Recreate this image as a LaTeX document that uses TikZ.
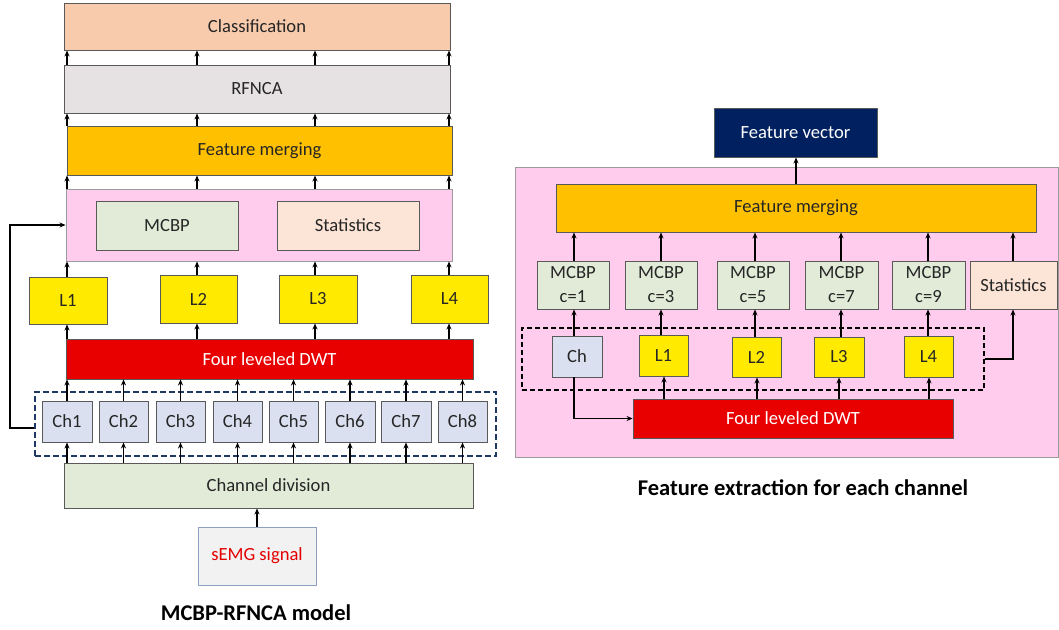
\documentclass[tikz,border=0pt]{standalone}
\usepackage{fontspec}
\setmainfont{Carlito}
\usetikzlibrary{arrows.meta,calc}
\definecolor{cpeach}{HTML}{F8CBAD}
\definecolor{cgray}{HTML}{E6E2E4}
\definecolor{corange}{HTML}{FFC000}
\definecolor{cpink}{HTML}{FFCCEE}
\definecolor{cgreen}{HTML}{E2EBD8}
\definecolor{cstat}{HTML}{FCE4D6}
\definecolor{cyellow}{HTML}{FFEA00}
\definecolor{cred}{HTML}{E80000}
\definecolor{cblue}{HTML}{DAE0F0}
\definecolor{cnavy}{HTML}{002060}
\definecolor{cdash}{HTML}{203864}
\definecolor{cborder}{HTML}{595959}
\definecolor{csemgb}{HTML}{8EA0BE}
\definecolor{csemgf}{HTML}{F2F2F2}
\definecolor{ctxt}{HTML}{262626}
\begin{document}
\begin{tikzpicture}[x=1pt,y=-1pt,
  rect/.style args={#1/#2/#3/#4}{minimum width={#3-#1},minimum height={#4-#2},
    at={({(#1+#3)/2},{(#2+#4)/2})},anchor=center},
  box/.style={draw=cborder,line width=0.9pt,inner sep=0pt,text=ctxt,
    font=\fontsize{18.6}{24}\selectfont,align=center},
  arr/.style={line width=1.2pt,-{Stealth[length=6pt,width=5pt]}},
  ttl/.style={font=\fontsize{22.5}{26}\selectfont\bfseries,text=black}]
\useasboundingbox (0,0) rectangle (1059,629);

% ---------- left diagram ----------
\node[box,fill=cpeach,rect=64/3/450/50] (cls) {Classification};
\node[box,fill=cgray,rect=64/65/450/113] (rf) {RFNCA};
\node[box,fill=corange,rect=67/126/452/175] (fmL) {Feature merging};
\node[box,draw=cborder!60,fill=cpink,rect=66/189/452/261] (pinkL) {};
\node[box,fill=cgreen,rect=96/201/238/250] (mcbpL) {MCBP};
\node[box,fill=cstat,rect=277/201/419/250] (statL) {Statistics};
\node[box,fill=cyellow,rect=29/277/107/324] (l1) {L1};
\node[box,fill=cyellow,rect=160/275/237/323] (l2) {L2};
\node[box,fill=cyellow,rect=279/275/357/323] (l3) {L3};
\node[box,fill=cyellow,rect=411/275/488/323] (l4) {L4};
\node[box,fill=cred,text=white,rect=66/339/473/379] (dwtL) {Four leveled DWT};
\node[draw=cdash,line width=1.3pt,dash pattern=on 6pt off 3pt,inner sep=0pt,rect=35/392/496/456] (dashL) {};
\node[box,fill=cblue,rect=42/401/92/442] (ch1) {Ch1};
\node[box,fill=cblue,rect=99/401/148/442] (ch2) {Ch2};
\node[box,fill=cblue,rect=156/401/205/442] (ch3) {Ch3};
\node[box,fill=cblue,rect=213/401/262/442] (ch4) {Ch4};
\node[box,fill=cblue,rect=269/401/318/442] (ch5) {Ch5};
\node[box,fill=cblue,rect=325/401/375/442] (ch6) {Ch6};
\node[box,fill=cblue,rect=381/401/431/442] (ch7) {Ch7};
\node[box,fill=cblue,rect=438/401/487/442] (ch8) {Ch8};
\node[box,fill=cgreen,rect=64/463/473/508] (chdiv) {Channel division};
\node[box,draw=csemgb,fill=csemgf,text={red!90!black},rect=198/527/316/585] (semg) {sEMG signal};
\node[ttl] (titleL) at (256,613) {MCBP-RFNCA model};

\coordinate (k1) at (67,0);
\coordinate (k2) at (197,0);
\coordinate (k3) at (315,0);
\coordinate (k4) at (449,0);
\foreach \k in {k1,k2,k3,k4}{
  \draw[arr] (\k |- rf.north) -- (\k |- cls.south);
  \draw[arr] (\k |- fmL.north) -- (\k |- rf.south);
  \draw[arr] (\k |- pinkL.north) -- (\k |- fmL.south);
}
\draw[arr] (k1 |- l1.north) -- (k1 |- pinkL.south);
\draw[arr] (k2 |- l2.north) -- (k2 |- pinkL.south);
\draw[arr] (k3 |- l3.north) -- (k3 |- pinkL.south);
\draw[arr] (k4 |- l4.north) -- (k4 |- pinkL.south);
\draw[arr] (k1 |- dwtL.north) -- (k1 |- l1.south);
\draw[arr] (k2 |- dwtL.north) -- (k2 |- l2.south);
\draw[arr] (k3 |- dwtL.north) -- (k3 |- l3.south);
\draw[arr] (k4 |- dwtL.north) -- (k4 |- l4.south);
\foreach \c in {ch1,ch2,ch3,ch4,ch5,ch6,ch7,ch8}{
  \draw[arr] (\c.north) -- (\c.north |- dwtL.south);
  \draw[arr] (\c.south |- chdiv.north) -- (\c.south);
}
\draw[arr] (semg.north) -- (semg.north |- chdiv.south);
\coordinate (fbk) at (10,428);
\draw[arr] (dashL.west |- fbk) -- (fbk) -- (fbk |- pinkL.west) -- (pinkL.west);

% ---------- right diagram ----------
\node[box,fill=cnavy,text=white,rect=714/108/877/157] (fv) {Feature vector};
\node[box,draw=cborder!60,fill=cpink,rect=515/167/1058/457] (pinkR) {};
\node[box,fill=corange,rect=556/184/1036/232] (fmR) {Feature merging};
\node[box,fill=cgreen,rect=537/261/609/309] (m1) {MCBP\\c=1};
\node[box,fill=cgreen,rect=625/261/697/309] (m3) {MCBP\\c=3};
\node[box,fill=cgreen,rect=717/261/789/309] (m5) {MCBP\\c=5};
\node[box,fill=cgreen,rect=805/261/878/309] (m7) {MCBP\\c=7};
\node[box,fill=cgreen,rect=892/261/965/309] (m9) {MCBP\\c=9};
\node[box,fill=cstat,rect=970/261/1057/309] (statR) {Statistics};
\node[draw=black,line width=1.2pt,dash pattern=on 5pt off 3pt,inner sep=0pt,rect=522/328/984/390] (dashR) {};
\node[box,fill=cblue,rect=552/336/602/377] (chR) {Ch};
\node[box,fill=cyellow,rect=639/335/688/376] (r1) {L1};
\node[box,fill=cyellow,rect=732/337/781/377] (r2) {L2};
\node[box,fill=cyellow,rect=814/337/864/377] (r3) {L3};
\node[box,fill=cyellow,rect=904/336/953/377] (r4) {L4};
\node[box,fill=cred,text=white,rect=633/399/953/438] (dwtR) {Four leveled DWT};
\node[ttl] (titleR) at (803,488) {Feature extraction for each channel};

\coordinate (fvx) at (796,0);
\draw[arr] (fvx |- fmR.north) -- (fvx |- fv.south);
\coordinate (q1) at (574,0);
\coordinate (q2) at (661,0);
\coordinate (q3) at (755,0);
\coordinate (q4) at (841,0);
\coordinate (q5) at (928,0);
\coordinate (q6) at (1013,0);
\draw[arr] (q1 |- m1.north) -- (q1 |- fmR.south);
\draw[arr] (q2 |- m3.north) -- (q2 |- fmR.south);
\draw[arr] (q3 |- m5.north) -- (q3 |- fmR.south);
\draw[arr] (q4 |- m7.north) -- (q4 |- fmR.south);
\draw[arr] (q5 |- m9.north) -- (q5 |- fmR.south);
\draw[arr] (q6 |- statR.north) -- (q6 |- fmR.south);
\draw[arr] (q1 |- chR.north) -- (q1 |- m1.south);
\draw[arr] (q2 |- r1.north) -- (q2 |- m3.south);
\draw[arr] (q3 |- r2.north) -- (q3 |- m5.south);
\draw[arr] (q4 |- r3.north) -- (q4 |- m7.south);
\draw[arr] (q5 |- r4.north) -- (q5 |- m9.south);
\coordinate (p1) at (664,0);
\coordinate (p2) at (757,0);
\coordinate (p3) at (839,0);
\coordinate (p4) at (929,0);
\draw[arr] (p1 |- dwtR.north) -- (p1 |- r1.south);
\draw[arr] (p2 |- dwtR.north) -- (p2 |- r2.south);
\draw[arr] (p3 |- dwtR.north) -- (p3 |- r3.south);
\draw[arr] (p4 |- dwtR.north) -- (p4 |- r4.south);
\draw[arr] (q1 |- chR.south) |- (dwtR.west);
\draw[arr] (dashR.east) -| (q6 |- statR.south);
\end{tikzpicture}
\end{document}
